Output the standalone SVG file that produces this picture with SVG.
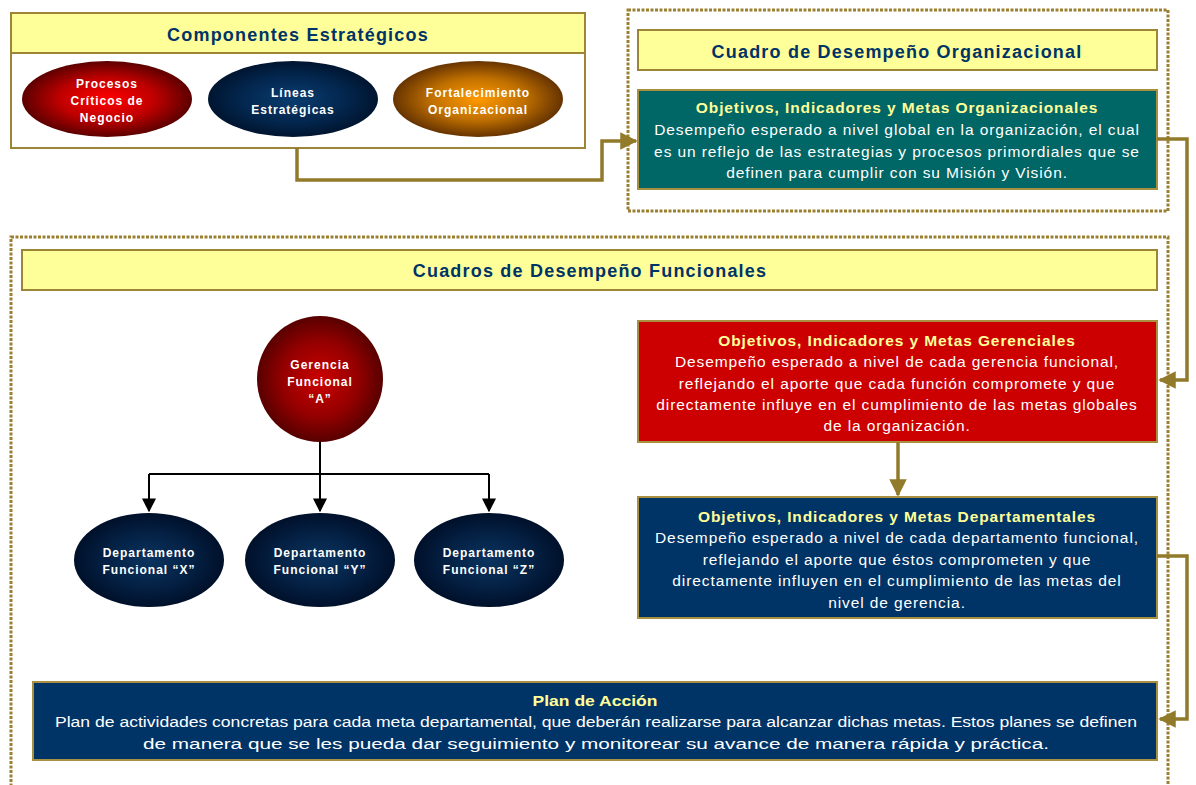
<svg xmlns="http://www.w3.org/2000/svg" width="1196" height="785" viewBox="0 0 1196 785">
<defs>
<style>
.hdr{fill:#FFFF99;stroke:#9C8536;stroke-width:2}
.hdrt{font-family:"Liberation Sans",Arial,sans-serif;font-weight:bold;font-size:18px;fill:#003366;text-anchor:middle;letter-spacing:1.2px}
.box{stroke:#A89040;stroke-width:2}
.bt{font-family:"Liberation Sans",Arial,sans-serif;font-weight:bold;font-size:15.5px;fill:#FFFF99;text-anchor:middle;letter-spacing:0.9px}
.bd{font-family:"Liberation Sans",Arial,sans-serif;font-size:15.5px;fill:#FFFFFF;text-anchor:middle;letter-spacing:0.9px}
.el{font-family:"Liberation Sans",Arial,sans-serif;font-weight:bold;font-size:12px;fill:#FFFFFF;text-anchor:middle;letter-spacing:1px}
.dot{fill:none;stroke:#9C8032;stroke-width:3;stroke-dasharray:3 1.5}
.gold{fill:none;stroke:#927A2B;stroke-width:3.5}
.blk{fill:none;stroke:#000;stroke-width:2}
</style>
<radialGradient id="gRed"><stop offset="0" stop-color="#FF0000"/><stop offset="0.55" stop-color="#C00000"/><stop offset="1" stop-color="#5C0000"/></radialGradient>
<radialGradient id="gBlue"><stop offset="0" stop-color="#0A3C70"/><stop offset="0.6" stop-color="#03274F"/><stop offset="1" stop-color="#001530"/></radialGradient>
<radialGradient id="gOra"><stop offset="0" stop-color="#FF9900"/><stop offset="0.55" stop-color="#C07000"/><stop offset="1" stop-color="#663300"/></radialGradient>
<radialGradient id="gGer"><stop offset="0" stop-color="#CC0000"/><stop offset="0.6" stop-color="#940000"/><stop offset="1" stop-color="#580000"/></radialGradient>
<radialGradient id="gDep"><stop offset="0" stop-color="#0B3460"/><stop offset="0.6" stop-color="#042043"/><stop offset="1" stop-color="#00102A"/></radialGradient>
<marker id="ag" viewBox="0 0 10 10" refX="9" refY="5" markerWidth="5" markerHeight="5" markerUnits="strokeWidth" orient="auto"><path d="M0,0 L10,5 L0,10 z" fill="#927A2B"/></marker>
<marker id="ab" viewBox="0 0 10 10" refX="9" refY="5" markerWidth="7" markerHeight="7" markerUnits="strokeWidth" orient="auto"><path d="M0,0 L10,5 L0,10 z" fill="#000"/></marker>
</defs>
<rect width="1196" height="785" fill="#FFFFFF"/>

<g id="frames">
<rect class="dot" x="628" y="10" width="540" height="201"/>
<rect class="dot" x="11" y="237" width="1157" height="560"/>
</g>

<g id="componentes">
<rect x="11" y="13" width="574" height="135" fill="#FFFFFF" stroke="#9C8536" stroke-width="2"/>
<rect class="hdr" x="11" y="13" width="574" height="40"/>
<text class="hdrt" x="298" y="41">Componentes Estratégicos</text>
</g>
<g id="procesos">
<ellipse cx="107" cy="99" rx="85" ry="38" fill="url(#gRed)"/>
<text class="el" x="107" y="88">Procesos</text>
<text class="el" x="107" y="105">Críticos de</text>
<text class="el" x="107" y="122">Negocio</text>
</g>
<g id="lineas">
<ellipse cx="293" cy="99" rx="85" ry="38" fill="url(#gBlue)"/>
<text class="el" x="293" y="97">Líneas</text>
<text class="el" x="293" y="114">Estratégicas</text>
</g>
<g id="fortalecimiento">
<ellipse cx="478" cy="99" rx="85" ry="38" fill="url(#gOra)"/>
<text class="el" x="478" y="97">Fortalecimiento</text>
<text class="el" x="478" y="114">Organizacional</text>
</g>

<g id="cuadro-org">
<rect class="hdr" x="638" y="30" width="519" height="40"/>
<text class="hdrt" x="897" y="58">Cuadro de Desempeño Organizacional</text>
</g>
<g id="obj-org">
<rect class="box" x="638" y="90" width="519" height="99" fill="#006666"/>
<text class="bt" x="897" y="113">Objetivos, Indicadores y Metas Organizacionales</text>
<text class="bd" x="897" y="135">Desempeño esperado a nivel global en la organización, el cual</text>
<text class="bd" x="897" y="157">es un reflejo de las estrategias y procesos primordiales que se</text>
<text class="bd" x="897" y="178">definen para cumplir con su Misión y Visión.</text>
</g>

<g id="cuadros-func">
<rect class="hdr" x="22" y="250" width="1135" height="40"/>
<text class="hdrt" x="590" y="277">Cuadros de Desempeño Funcionales</text>
</g>

<g id="obj-ger">
<rect class="box" x="638" y="321" width="519" height="121" fill="#CC0000"/>
<text class="bt" x="897" y="346">Objetivos, Indicadores y Metas Gerenciales</text>
<text class="bd" x="897" y="367">Desempeño esperado a nivel de cada gerencia funcional,</text>
<text class="bd" x="897" y="389">reflejando el aporte que cada función compromete y que</text>
<text class="bd" x="897" y="410">directamente influye en el cumplimiento de las metas globales</text>
<text class="bd" x="897" y="431">de la organización.</text>
</g>

<g id="obj-dep">
<rect class="box" x="638" y="497" width="519" height="121" fill="#003366"/>
<text class="bt" x="897" y="522">Objetivos, Indicadores y Metas Departamentales</text>
<text class="bd" x="897" y="543">Desempeño esperado a nivel de cada departamento funcional,</text>
<text class="bd" x="897" y="565">reflejando el aporte que éstos comprometen y que</text>
<text class="bd" x="897" y="586">directamente influyen en el cumplimiento de las metas del</text>
<text class="bd" x="897" y="608">nivel de gerencia.</text>
</g>

<g id="plan">
<rect class="box" x="33" y="682" width="1124" height="78" fill="#003366"/>
<text class="bt" x="595" y="706" style="letter-spacing:0" textLength="125" lengthAdjust="spacingAndGlyphs">Plan de Acción</text>
<text class="bd" x="596" y="727" style="letter-spacing:0" textLength="1082" lengthAdjust="spacingAndGlyphs">Plan de actividades concretas para cada meta departamental, que deberán realizarse para alcanzar dichas metas. Estos planes se definen</text>
<text class="bd" x="596" y="749" style="letter-spacing:0" textLength="906" lengthAdjust="spacingAndGlyphs">de manera que se les pueda dar seguimiento y monitorear su avance de manera rápida y práctica.</text>
</g>

<g id="gerencia">
<circle cx="320" cy="379" r="63" fill="url(#gGer)"/>
<text class="el" x="320" y="369">Gerencia</text>
<text class="el" x="320" y="386">Funcional</text>
<text class="el" x="320" y="403">“A”</text>
</g>
<g id="dep-x">
<ellipse cx="149" cy="560" rx="75" ry="47" fill="url(#gDep)"/>
<text class="el" x="149" y="557">Departamento</text>
<text class="el" x="149" y="574">Funcional “X”</text>
</g>
<g id="dep-y">
<ellipse cx="320" cy="560" rx="75" ry="47" fill="url(#gDep)"/>
<text class="el" x="320" y="557">Departamento</text>
<text class="el" x="320" y="574">Funcional “Y”</text>
</g>
<g id="dep-z">
<ellipse cx="489" cy="560" rx="75" ry="47" fill="url(#gDep)"/>
<text class="el" x="489" y="557">Departamento</text>
<text class="el" x="489" y="574">Funcional “Z”</text>
</g>

<g id="connectors">
<path class="gold" d="M297,148 V180 H602 V141 H636" marker-end="url(#ag)"/>
<path class="gold" d="M1157,139 H1187 V380 H1160" marker-end="url(#ag)"/>
<path class="gold" d="M898,442 V495" marker-end="url(#ag)"/>
<path class="gold" d="M1157,556 H1187 V719 H1160" marker-end="url(#ag)"/>
<path class="blk" d="M320,442 V474"/>
<path class="blk" d="M149,474 H489"/>
<path class="blk" d="M149,474 V511" marker-end="url(#ab)"/>
<path class="blk" d="M320,474 V511" marker-end="url(#ab)"/>
<path class="blk" d="M489,474 V511" marker-end="url(#ab)"/>
</g>
</svg>
